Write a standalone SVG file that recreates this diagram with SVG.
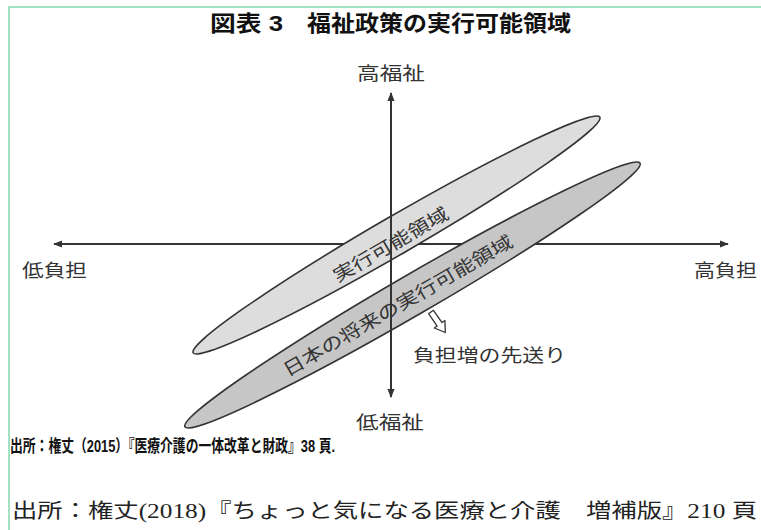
<svg xmlns="http://www.w3.org/2000/svg" width="761" height="530" viewBox="0 0 761 530">
<style>
.frame{fill:none;stroke:#86d6ae;stroke-width:1.5}
.axis{stroke:#333;stroke-width:2;fill:none}
.lbl{font-family:"Liberation Sans","Noto Sans CJK JP",sans-serif;font-size:18px;fill:#333}
.ell1{fill:#dddddd;stroke:#333;stroke-width:1.6}
.ell2{fill:#c6c6c6;stroke:#333;stroke-width:1.6}
.title{font-family:"Liberation Sans","Noto Sans CJK JP",sans-serif;font-size:22px;font-weight:bold;fill:#111}
.src1{font-family:"Liberation Sans","Noto Sans CJK JP",sans-serif;font-size:17px;font-weight:bold;fill:#111}
.src2{font-family:"Liberation Serif","Noto Sans CJK JP",serif;font-size:20px;fill:#222}
</style>
<defs>
<marker id="ah" viewBox="0 0 10 10" refX="9" refY="5" markerWidth="4.5" markerHeight="4.5" orient="auto" markerUnits="strokeWidth">
<path d="M0,1 L10,5 L0,9 Z" fill="#333"/>
</marker>
</defs>
<rect class="frame" x="9" y="7" width="800" height="600"/>
<g id="title">
<text class="title" x="210" y="31" textLength="73" lengthAdjust="spacingAndGlyphs">図表 3</text>
<text class="title" x="307" y="31" textLength="264" lengthAdjust="spacingAndGlyphs">福祉政策の実行可能領域</text>
</g>
<g id="connectors">
<line class="axis" x1="391" y1="244" x2="54" y2="244" marker-end="url(#ah)"/>
<line class="axis" x1="391" y1="244" x2="728" y2="244" marker-end="url(#ah)"/>
</g>
<g id="region-current">
<ellipse class="ell1" cx="396.5" cy="235" rx="235" ry="19" transform="rotate(-30.1 396.5 235)"/>
</g>
<g id="region-future">
<ellipse class="ell2" cx="412.5" cy="295" rx="263" ry="20" transform="rotate(-30.1 412.5 295)"/>
</g>
<g id="connectors-v">
<line class="axis" x1="391" y1="244" x2="391" y2="93" marker-end="url(#ah)"/>
<line class="axis" x1="391" y1="244" x2="391" y2="397" marker-end="url(#ah)"/>
</g>
<g id="region-current-label">
<text class="lbl" x="391" y="245" text-anchor="middle" dominant-baseline="central" textLength="130" lengthAdjust="spacingAndGlyphs" transform="rotate(-30.1 391 245)">実行可能領域</text>
</g>
<g id="region-future-label">
<text class="lbl" x="398" y="306" text-anchor="middle" dominant-baseline="central" textLength="262" lengthAdjust="spacingAndGlyphs" transform="rotate(-30.1 398 306)">日本の将来の実行可能領域</text>
</g>
<g id="shift-arrow">
<path d="M0,-3 L15,-3 L15,-6.5 L25,0 L15,6.5 L15,3 L0,3 Z" fill="#fff" stroke="#333" stroke-width="1.3" stroke-linejoin="round" transform="translate(431 312) rotate(55)"/>
</g>
<g id="label-shift"><text class="lbl" x="413" y="362" textLength="153" lengthAdjust="spacingAndGlyphs">負担増の先送り</text></g>
<g id="label-top"><text class="lbl" x="357" y="80" textLength="68" lengthAdjust="spacingAndGlyphs">高福祉</text></g>
<g id="label-bottom"><text class="lbl" x="356" y="429" textLength="68" lengthAdjust="spacingAndGlyphs">低福祉</text></g>
<g id="label-left"><text class="lbl" x="22" y="277" textLength="65" lengthAdjust="spacingAndGlyphs">低負担</text></g>
<g id="label-right"><text class="lbl" x="694" y="277" textLength="63" lengthAdjust="spacingAndGlyphs">高負担</text></g>
<g id="source1"><text class="src1" x="10" y="452" textLength="325" lengthAdjust="spacingAndGlyphs">出所：権丈（2015）『医療介護の一体改革と財政』38 頁.</text></g>
<g id="source2"><text class="src2" x="12" y="518" textLength="745" lengthAdjust="spacingAndGlyphs">出所：権丈(2018)『ちょっと気になる医療と介護　増補版』210 頁</text></g>
</svg>
